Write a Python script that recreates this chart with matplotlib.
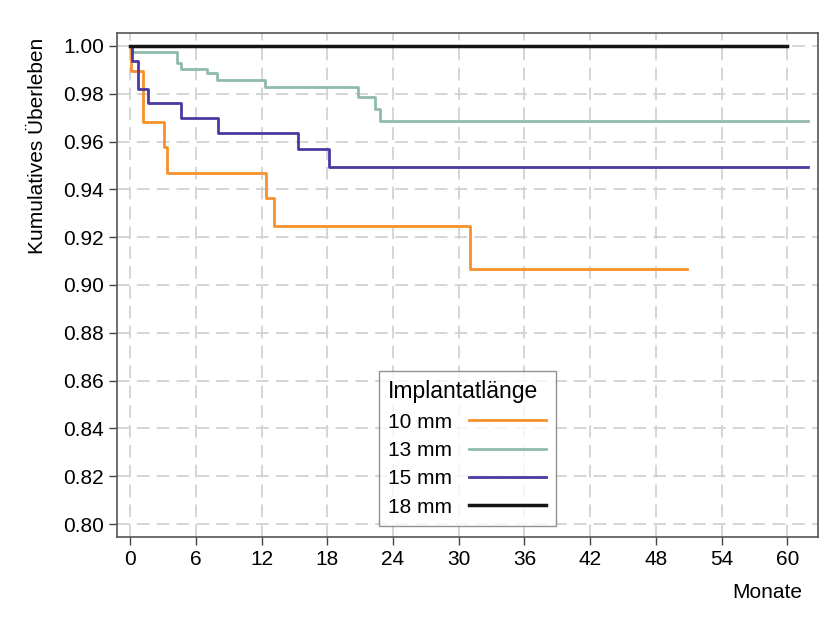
import matplotlib.pyplot as plt
import matplotlib as mpl

plt.rcParams['font.family'] = ['Liberation Sans', 'DejaVu Sans']

# Kaplan-Meier Stufen (Monate, kumulatives Überleben)
t10 = [0, 0.1, 1.2, 3.1, 3.35, 12.4, 13.1, 31.0, 50.8]
s10 = [1.0, 0.9895, 0.968, 0.9576, 0.9467, 0.9363, 0.9248, 0.9068, 0.9068]

t13 = [0, 0.15, 4.26, 4.66, 7.06, 7.97, 12.33, 20.76, 22.4, 22.77, 61.9]
s13 = [1.0, 0.9976, 0.9927, 0.9902, 0.9886, 0.9858, 0.9830, 0.9788, 0.9736, 0.9688, 0.9688]

t15 = [0, 0.15, 0.76, 1.6, 4.63, 8.0, 15.28, 18.2, 61.9]
s15 = [1.0, 0.9937, 0.982, 0.976, 0.9697, 0.9637, 0.9569, 0.9495, 0.9495]

t18 = [0, 60]
s18 = [1.0, 1.0]

labels = ["10 mm", "13 mm", "15 mm", "18 mm"]
colors = ["#F7912C", "#8FBAB0", "#4A3A9F", "#151515"]
widths = [2.0, 2.0, 2.0, 2.5]

fig = plt.figure(figsize=(8.31, 6.25), dpi=100)
ax = fig.add_axes([117 / 831, 1 - 537 / 625, (818 - 117) / 831, (537 - 33) / 625])

for t, s, lab, c, w in zip([t10, t13, t15, t18], [s10, s13, s15, s18], labels, colors, widths):
    ax.step(t, s, where='post', color=c, lw=w, label=lab)

ax.set_xlim(-1.2, 62.8)
ax.set_ylim(0.7946, 1.0054)
ax.set_xticks(range(0, 61, 6))
ax.set_yticks([0.80 + 0.02 * i for i in range(11)])
ax.yaxis.set_major_formatter(mpl.ticker.FormatStrFormatter('%.2f'))
ax.tick_params(labelsize=15, color='#444444', length=6, width=1)
ax.grid(True, ls=(0, (7, 4)), color='#D2D2D6', lw=1.3)
ax.set_axisbelow(True)
for sp in ax.spines.values():
    sp.set_color('#555555')
    sp.set_linewidth(1.2)

fig.text(38 / 831, 1 - 38 / 625, "Kumulatives Überleben", rotation=90,
         ha='center', va='top', fontsize=15)
fig.text(802 / 831, 1 - 593 / 625, "Monate", ha='right', va='center', fontsize=15)

leg = ax.legend(title="Implantatlänge", loc='lower left',
                bbox_to_anchor=((379 - 117) / 701, (537 - 526) / 504),
                borderaxespad=0, markerfirst=False, fontsize=15, title_fontsize=16.5,
                frameon=True, fancybox=False, handlelength=3.7,
                borderpad=0.45, labelspacing=0.45, handletextpad=0.8)
leg.get_frame().set_edgecolor('#777777')
leg.get_frame().set_linewidth(1.0)
leg._legend_box.align = "left"

fig.savefig("out.png", dpi=100)
